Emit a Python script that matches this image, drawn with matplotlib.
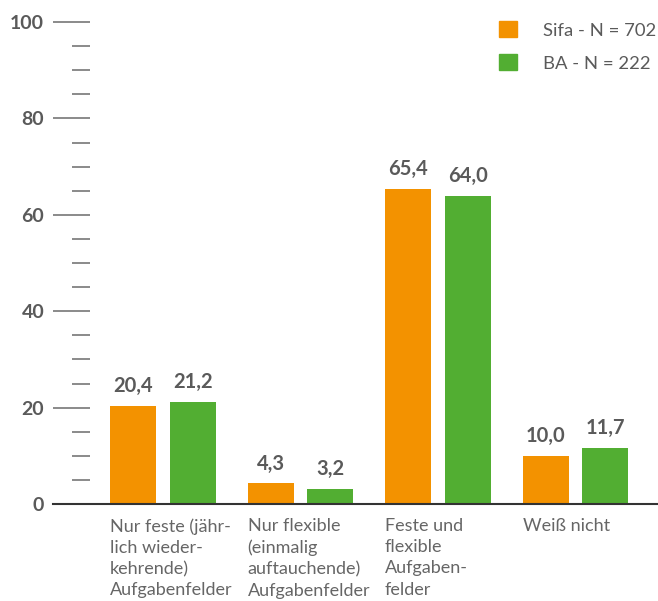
import numpy as np
import matplotlib.pyplot as plt
from matplotlib.patches import Patch

plt.rcParams['font.family'] = ['Lato', 'DejaVu Sans']

categories = ['Nur feste (jähr-\nlich wieder-\nkehrende)\nAufgabenfelder',
              'Nur flexible\n(einmalig\nauftauchende)\nAufgabenfelder',
              'Feste und\nflexible\nAufgaben-\nfelder',
              'Weiß nicht']
sifa = [20.4, 4.3, 65.4, 10.0]
ba = [21.2, 3.2, 64.0, 11.7]
series_names = ['Sifa - N = 702', 'BA - N = 222']

orange = '#F39200'
green = '#52AE32'
grey = '#5a5a5a'

fig = plt.figure(figsize=(6.58, 6.01), dpi=100)
ax = fig.add_axes([90 / 658, 97 / 601, 568 / 658, 482 / 601])

x = np.arange(len(categories))
w = 0.3345
off = 0.218
b1 = ax.bar(x - off, sifa, w, color=orange)
b2 = ax.bar(x + off, ba, w, color=green)

for bars, vals in [(b1, sifa), (b2, ba)]:
    for r, v in zip(bars, vals):
        ax.text(r.get_x() + r.get_width() / 2, v + 2.0, f'{v:.1f}'.replace('.', ','),
                ha='center', va='bottom', fontsize=14.5, fontweight='bold', color=grey)

for i, lab in enumerate(categories):
    ax.text(i - off - w / 2, -2.9, lab, ha='left', va='top', fontsize=13,
            color='#666666', linespacing=1.4)

ax.set_xlim(-73 / 137.5, 495 / 137.5)
ax.set_ylim(0, 100)
ax.set_yticks(np.arange(0, 101, 20))
ax.set_yticks(np.arange(0, 101, 5), minor=True)
ax.tick_params(axis='y', which='major', length=27, width=1.2, color='#777777',
               labelsize=14, labelcolor=grey, pad=6)
ax.tick_params(axis='y', which='minor', length=13, width=1.2, color='#777777')
for t in ax.get_yticklabels():
    t.set_fontweight('bold')
ax.set_xticks([])
for s in ax.spines.values():
    s.set_visible(False)
ax.axhline(0, xmin=-37 / 568, xmax=1, color='#333333', lw=1.5, clip_on=False)

handles = [Patch(color=orange), Patch(color=green)]
ax.legend(handles, series_names, loc='upper right', bbox_to_anchor=(1.0, 1.005),
          frameon=False, fontsize=13.3, handlelength=0.95, handleheight=0.95,
          handletextpad=1.4, labelspacing=0.85, labelcolor=grey, borderaxespad=0,
          borderpad=0.1)

fig.savefig('out.png', dpi=100)
